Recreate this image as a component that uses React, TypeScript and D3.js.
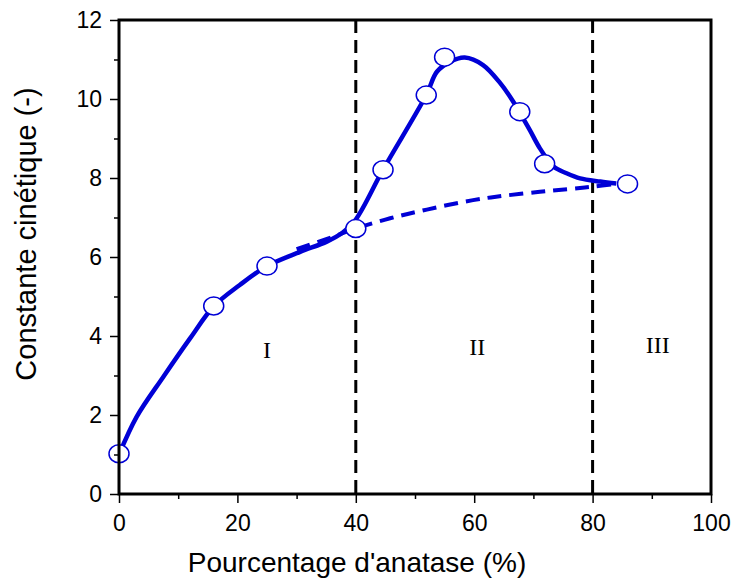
import React, { useEffect, useRef } from "react";
import * as d3 from "d3";

// measured points (markers)
const markerX = [0, 16, 25, 40, 44.6, 51.9, 55, 67.7, 71.9, 85.9];
const markerY = [1.02, 4.76, 5.77, 6.72, 8.21, 10.1, 11.06, 9.68, 8.36, 7.85];

// solid fitted curve
const solidX = [0, 3, 7.5, 12, 16, 20.4, 25, 30.6, 35.1, 37.8, 40, 44.6, 51.9, 53.7, 55.9, 58.4, 61.5, 64.4, 66.6, 69.4, 71.1, 73.4, 75.6, 77.9, 81.3, 84];
const solidY = [1.0, 1.96, 2.97, 3.94, 4.75, 5.29, 5.77, 6.13, 6.39, 6.62, 6.95, 8.21, 10.1, 10.69, 10.94, 11.05, 10.86, 10.4, 9.93, 9.21, 8.75, 8.29, 8.12, 7.99, 7.91, 7.86];

// dashed trend curve
const dashX = [30, 35, 40, 45.8, 52, 59.8, 65, 71.1, 76, 80, 84];
const dashY = [6.2, 6.45, 6.72, 6.98, 7.2, 7.44, 7.55, 7.65, 7.72, 7.78, 7.85];

const regionBounds = [40, 80];
const regionLabels = ["I", "II", "III"];
const regionLabelX = [25, 60.5, 91];
const regionLabelY = [3.45, 3.52, 3.58];

const xTicks = [0, 20, 40, 60, 80, 100];
const yTicks = [0, 2, 4, 6, 8, 10, 12];

const BLUE = "#0000d6";

export default function App() {
  const svgRef = useRef<SVGSVGElement>(null);

  useEffect(() => {
    document.body.style.margin = "0";
    const svg = d3.select(svgRef.current);
    svg.selectAll("*").remove();

    const W = 739, H = 582;
    const margin = { top: 20, right: 28, bottom: 88, left: 119 };
    const x = d3.scaleLinear().domain([0, 100]).range([margin.left, W - margin.right]);
    const y = d3.scaleLinear().domain([0, 12]).range([H - margin.bottom, margin.top]);
    const font = "'Liberation Sans', Arial, Helvetica, sans-serif";

    svg.append("rect").attr("width", W).attr("height", H).attr("fill", "#fff");

    // region separators
    regionBounds.forEach(b => {
      svg.append("line")
        .attr("x1", x(b)).attr("x2", x(b)).attr("y1", y(12)).attr("y2", y(0))
        .attr("stroke", "#000").attr("stroke-width", 3).attr("stroke-dasharray", "13,7");
    });

    regionLabels.forEach((t, i) => {
      svg.append("text").attr("x", x(regionLabelX[i])).attr("y", y(regionLabelY[i]))
        .attr("text-anchor", "middle").style("font-family", "'Liberation Serif', 'Times New Roman', serif")
        .style("font-size", "24px").attr("fill", "#000").text(t);
    });

    const line = d3.line<number>().curve(d3.curveCatmullRom.alpha(0.5));

    svg.append("path")
      .attr("d", line.x((_, i) => x(dashX[i])).y((d) => y(d))(dashY))
      .attr("fill", "none").attr("stroke", BLUE).attr("stroke-width", 4)
      .attr("stroke-dasharray", "14,8");

    svg.append("path")
      .attr("d", line.x((_, i) => x(solidX[i])).y((d) => y(d))(solidY))
      .attr("fill", "none").attr("stroke", BLUE).attr("stroke-width", 4.5)
      .attr("stroke-linejoin", "round");

    markerY.forEach((v, i) => {
      svg.append("ellipse").attr("cx", x(markerX[i])).attr("cy", y(v))
        .attr("rx", 10).attr("ry", 9)
        .attr("fill", "#fff").attr("stroke", BLUE).attr("stroke-width", 1.5);
    });

    // axes
    const xAxis = svg.append("g").attr("transform", `translate(0,${y(0)})`)
      .call(d3.axisBottom(x).tickValues(xTicks).tickSize(9).tickPadding(6).tickFormat(d3.format("d")));
    svg.append("g").attr("transform", `translate(0,${y(0)})`)
      .call(d3.axisBottom(x).tickValues(d3.range(10, 100, 20)).tickSize(5).tickFormat(() => ""))
      .call(g => g.select(".domain").remove())
      .selectAll("line").attr("stroke-width", 1.5);
    const yAxis = svg.append("g").attr("transform", `translate(${x(0)},0)`)
      .call(d3.axisLeft(y).tickValues(yTicks).tickSize(9).tickPadding(8).tickFormat(d3.format("d")));
    svg.append("g").attr("transform", `translate(${x(0)},0)`)
      .call(d3.axisLeft(y).tickValues(d3.range(1, 12, 2)).tickSize(5).tickFormat(() => ""))
      .call(g => g.select(".domain").remove())
      .selectAll("line").attr("stroke-width", 1.5);

    [xAxis, yAxis].forEach(g => {
      g.select(".domain").remove();
      g.selectAll("line").attr("stroke-width", 1.5);
      g.selectAll("text").style("font-family", font).style("font-size", "23px").attr("fill", "#000");
    });
    xAxis.selectAll("text").attr("dy", "0.95em");

    // frame
    svg.append("rect").attr("x", x(0)).attr("y", y(12))
      .attr("width", x(100) - x(0)).attr("height", y(0) - y(12))
      .attr("fill", "none").attr("stroke", "#000").attr("stroke-width", 3);

    svg.append("text").attr("x", 357).attr("y", 572).attr("text-anchor", "middle")
      .style("font-family", font).style("font-size", "28px").attr("fill", "#000")
      .text("Pourcentage d'anatase (%)");

    svg.append("text").attr("transform", `translate(36,${234}) rotate(-90)`).attr("text-anchor", "middle")
      .style("font-family", font).style("font-size", "29px").attr("fill", "#000")
      .text("Constante cinétique (-)");
  }, []);

  return <svg ref={svgRef} width={739} height={582} style={{ display: "block" }} />;
}
